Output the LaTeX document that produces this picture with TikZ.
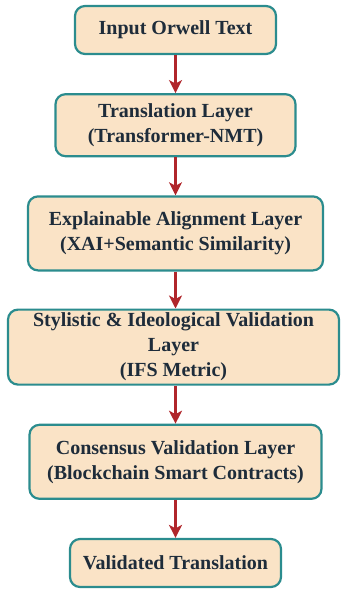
\documentclass[tikz,border=0pt]{standalone}
\usepackage{fontspec}
\setmainfont{Liberation Serif}
\usetikzlibrary{arrows.meta}
\usetikzlibrary{positioning}
\definecolor{boxfill}{HTML}{FAE3C6}
\definecolor{boxline}{HTML}{2B8C8E}
\definecolor{arrowred}{HTML}{B0262B}
\definecolor{textnavy}{HTML}{1E2C3A}
\tikzset{>={Stealth[length = 13pt, width = 13pt, inset = 3.5pt]}}
\tikzset{layer/.style = {draw = boxline, line width = 2.2pt, fill = boxfill, rounded corners = 10pt, align = center, text = textnavy, font = \fontsize{20}{25}\selectfont\bfseries, inner sep = 0pt}}
\tikzset{flow/.style = {->, draw = arrowred, line width = 2.2pt}}

\begin{document}
\begin{tikzpicture}[x = 1pt, y = -1pt, node distance = 38pt]

\useasboundingbox (0, 0) rectangle (341, 589);

\node[layer, minimum width = 201pt, minimum height = 48pt] (input) at (175.5, 30) {Input Orwell Text};
\node[layer, minimum width = 240pt, minimum height = 62pt, below = of input] (translation) {Translation Layer\\(Transformer-NMT)};
\node[layer, minimum width = 295pt, minimum height = 74pt, below = of translation] (alignment) {Explainable Alignment Layer\\(XAI+Semantic Similarity)};
\node[layer, minimum width = 331pt, minimum height = 75pt, below = 37pt of alignment, xshift = -2pt] (stylistic) {Stylistic \& Ideological Validation\\Layer\\(IFS Metric)};
\node[layer, minimum width = 292pt, minimum height = 74pt, below = of stylistic, xshift = 2pt] (consensus) {Consensus Validation Layer\\(Blockchain Smart Contracts)};
\node[layer, minimum width = 211pt, minimum height = 48pt, below = of consensus] (output) {Validated Translation};

\draw[flow] (input) -- (translation);
\draw[flow] (translation) -- (alignment);
\draw[flow] (alignment) -- (stylistic.north -| alignment.south);
\draw[flow] (stylistic.south -| consensus.north) -- (consensus);
\draw[flow] (consensus) -- (output);

\end{tikzpicture}
\end{document}
